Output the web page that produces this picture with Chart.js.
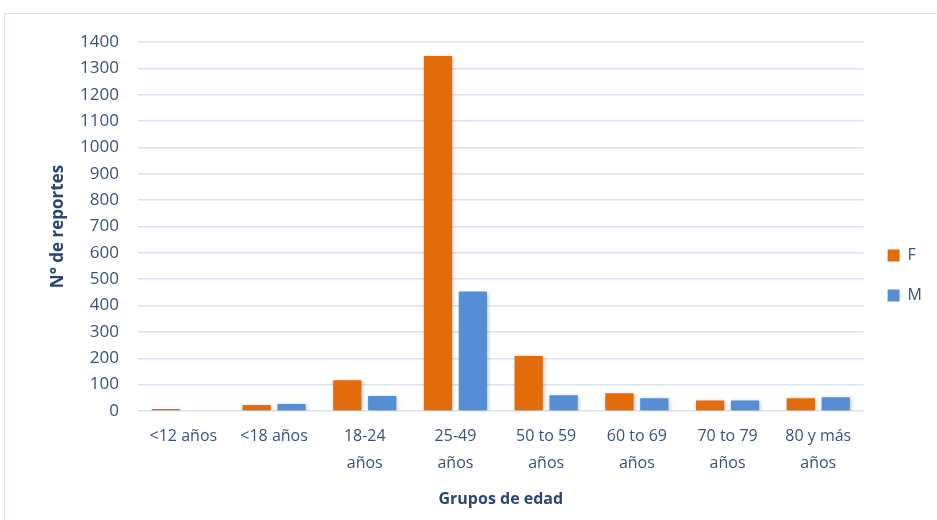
<!DOCTYPE html>
<html>
<head>
<meta charset="utf-8">
<script src="https://cdn.jsdelivr.net/npm/chart.js@4"></script>
<style>
    html, body { margin: 0; padding: 0; background: #fff; }
    #wrap { position: relative; width: 937px; height: 520px; overflow: hidden; }
    #frame { position: absolute; left: 4px; top: 13px; width: 960px; height: 540px;
             border: 1.5px solid #d6e0ef; box-sizing: border-box; }
    canvas { position: absolute; left: 0; top: 0; }
</style>
</head>
<body>
<div id="wrap">
    <div id="frame"></div>
    <canvas id="myChart" width="937" height="520"></canvas>
</div>
<script>
// categorias (grupos de edad)
const grupos = ['<12 años', '<18 años', ['18-24', 'años'], ['25-49', 'años'],
    ['50 to 59', 'años'], ['60 to 69', 'años'], ['70 to 79', 'años'], ['80 y más', 'años']];
const valoresF = [8, 23, 117, 1347, 209, 67, 40, 48];
const valoresM = [0, 27, 57, 453, 60, 48, 40, 52];
const ejeMax = 1400;
const ejePaso = 100;

const colorTexto = '#3a5277';
const colorTitulo = '#2b4470';
const fuente = "'Open Sans', 'Liberation Sans', sans-serif";

// sombra suave de las barras
const sombra = {
    id: 'sombra',
    beforeDatasetsDraw(chart) {
        const ctx = chart.ctx;
        ctx.save();
        ctx.shadowColor = 'rgba(0, 0, 0, 0.25)';
        ctx.shadowBlur = 4;
        ctx.shadowOffsetX = 1;
        ctx.shadowOffsetY = 1;
    },
    afterDatasetsDraw(chart) {
        chart.ctx.restore();
    }
};

const config = {
    type: 'bar',
    data: {
        labels: grupos,
        datasets: [{
            label: 'F',
            data: valoresF,
            backgroundColor: '#e36c0a',
            barPercentage: 0.81,
            categoryPercentage: 0.77,
        }, {
            label: 'M',
            data: valoresM,
            backgroundColor: '#558ed5',
            barPercentage: 0.81,
            categoryPercentage: 0.77,
        }]
    },
    options: {
        responsive: false,
        animation: false,
        layout: {
            padding: { top: 42, right: 5, bottom: 11, left: 4 }
        },
        scales: {
            x: {
                grid: { display: false, drawTicks: false },
                border: { display: false },
                ticks: {
                    color: colorTexto,
                    padding: 12,
                    maxRotation: 0,
                    autoSkip: false,
                    font: { family: fuente, size: 16, lineHeight: 1.7 }
                },
                title: {
                    display: true,
                    text: 'Grupos de edad',
                    color: colorTitulo,
                    padding: { top: 0, bottom: 0 },
                    font: { family: fuente, size: 16, weight: 'bold' }
                },
                afterFit(scale) { scale.height = 98; }
            },
            y: {
                min: 0,
                max: ejeMax,
                ticks: {
                    stepSize: ejePaso,
                    color: colorTexto,
                    padding: 19,
                    font: { family: fuente, size: 17 },
                    callback: (v) => String(v)
                },
                grid: { color: '#d9e2f1', lineWidth: 1.5, drawTicks: false },
                border: { display: false },
                title: {
                    display: true,
                    text: 'N° de reportes',
                    color: colorTitulo,
                    padding: { top: 44, bottom: 0 },
                    font: { family: fuente, size: 17, weight: 'bold' }
                },
                afterFit(scale) { scale.width = 134; }
            }
        },
        plugins: {
            legend: {
                position: 'right',
                align: 'center',
                labels: {
                    boxWidth: 12,
                    boxHeight: 12,
                    padding: 24,
                    color: colorTexto,
                    font: { family: fuente, size: 16 }
                }
            },
            tooltip: { enabled: false }
        }
    },
    plugins: [sombra]
};

const myChart = new Chart(document.getElementById('myChart'), config);
</script>
</body>
</html>
